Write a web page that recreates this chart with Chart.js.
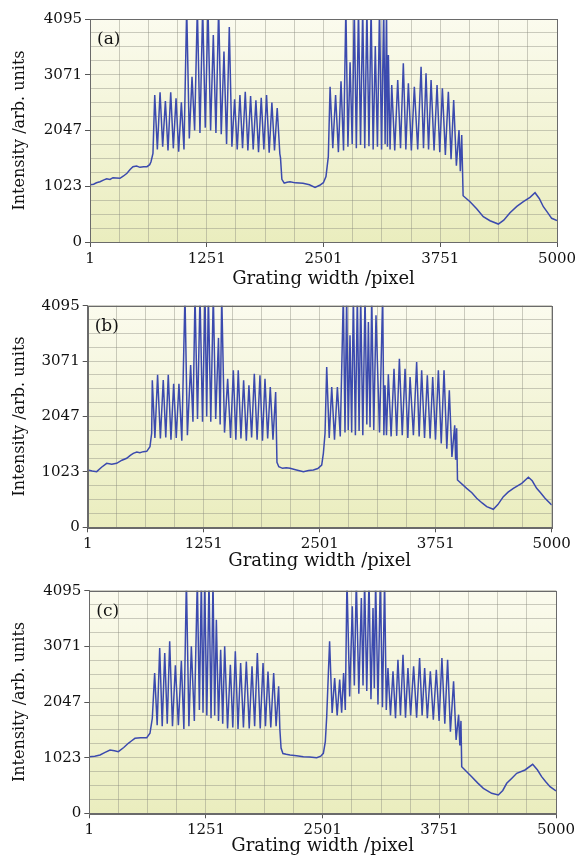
<!DOCTYPE html>
<html>
<head>
<meta charset="utf-8">
<script src="https://cdn.jsdelivr.net/npm/chart.js@4.4.0/dist/chart.umd.min.js"></script>
<style>
  html, body { margin: 0; padding: 0; background: #fff; }
  body { width: 581px; height: 859px; position: relative; overflow: hidden; }
  canvas { position: absolute; left: 0; }
</style>
</head>
<body>
<canvas id="chartA" width="581" height="290" style="top:0px"></canvas>
<canvas id="chartB" width="581" height="285" style="top:290px"></canvas>
<canvas id="chartC" width="581" height="284" style="top:575px"></canvas>
<script>
// tick labels of both axes
const xTickLabels = [1, 1251, 2501, 3751, 5000];
const yTickLabels = [0, 1023, 2047, 3071, 4095];
const panelTags = ['(a)', '(b)', '(c)'];

// panel (a): grating pixel / intensity (values > 4095 are saturated)
const pixelA = [1,40,70,108,150,180,215,247,280,322,360,397,430,461,500,536,575,611,640,654,675,
  694,722,751,779,808,836,865,893,922,950,979,1007,1036,1064,1093,1121,1150,1178,1207,1235,1264,1292,1321,1349,1378,1406,1435,1463,1492,1520,1549,1577,1606,1634,1663,1691,1720,1748,1777,1805,1834,1862,1891,1919,1948,1976,2005,2033,
  2040,2055,2080,2110,2142,2200,2281,2350,2410,2460,2499,2527,2552,
  2571,2600,2630,2660,2688,2715,2740,2762,2785,2808,2830,2852,2875,2897,2920,2942,2965,2987,3010,3032,3055,3078,3100,3122,3145,3160,3175,3185,3195,3213,3231,3263,3295,3325,3355,3382,3409,3441,3473,3509,3545,3571,3598,3625,3652,3684,3716,3745,3773,3805,3837,3866,3894,3923,3951,3965,3980,
  3995,4069,4140,4211,4283,4372,4430,4497,4570,4640,4711,4765,4810,4854,4900,4943,5000];
const intensityA = [1050,1062,1088,1107,1140,1162,1150,1181,1176,1170,1212,1261,1330,1383,1396,1371,1382,1383,1420,1475,1628,
  2700,1700,2750,1750,2590,1680,2750,1720,2640,1660,2565,1700,4300,1900,3035,2050,4300,2000,4300,2100,4300,2050,3800,2000,4300,1980,3500,1800,3950,1750,2620,1700,2700,1720,2760,1680,2680,1700,2600,1650,2650,1700,2700,1640,2560,1680,2460,1620,
  1550,1150,1080,1098,1107,1086,1077,1052,1004,1042,1089,1200,1567,
  2850,1720,2700,1650,2950,1680,4300,1750,3300,1800,4300,1720,4300,1780,4300,1720,4300,1760,4300,1700,3600,1750,4300,1700,4300,1800,4300,1750,3433,1700,2883,1680,2975,1720,3281,1700,2913,1680,2852,1700,3219,1720,3097,1700,2975,1680,2883,1650,2822,1600,2760,1520,2607,1400,2056,1300,1964,
  850,740,610,465,391,330,400,538,655,740,820,905,800,648,540,435,395];

// panel (b)
const pixelB = [1,50,98,150,206,260,313,370,421,460,492,530,564,600,637,672,690,
  697,725,754,784,815,842,869,898,927,955,984,1015,1049,1075,1110,1135,1157,1184,1211,1238,1265,1283,1301,1327,1354,1380,1410,1428,1445,1475,1509,1540,1570,1597,1623,1652,1681,1710,1738,1767,1796,1826,1857,1884,1911,1940,1968,1997,2026,
  2040,2060,2100,2140,2181,2250,2325,2380,2432,2480,2522,2540,2558,
  2576,2603,2630,2660,2691,2722,2755,2773,2791,2808,2827,2845,2863,2885,2906,2925,2942,2965,2989,3008,3025,3043,3061,3083,3107,3145,3179,3192,3204,3220,3240,3270,3301,3330,3359,3390,3420,3450,3474,3510,3545,3572,3599,3630,3660,3690,3718,3748,3779,3810,3840,3870,3897,3925,3955,3965,3976,
  3985,4084,4140,4192,4250,4300,4371,4420,4479,4530,4587,4677,4749,4790,4838,4880,4928,5000];
const intensityB = [1059,1040,1028,1110,1183,1165,1183,1240,1275,1330,1367,1392,1380,1398,1404,1490,1737,
  2717,1650,2820,1640,2722,1660,2820,1620,2654,1650,2654,1600,4300,1700,3000,1950,4300,2000,4300,1950,4300,2050,4300,1950,4300,2000,3500,1900,4300,1750,2746,1650,2900,1620,2900,1640,2717,1600,2624,1660,2839,1620,2808,1600,2746,1640,2593,1620,2500,
  1200,1120,1090,1102,1090,1060,1028,1050,1059,1085,1151,1367,1737,
  2962,1650,2593,1620,2593,1680,4300,1750,4300,1800,3548,1750,4300,1700,4300,1780,4300,1700,4300,1900,3794,1850,4300,1800,3917,1750,4300,1700,2624,1700,2826,1680,2931,1690,3116,1700,2931,1650,2777,1700,3055,1680,2901,1650,2808,1640,2777,1620,2900,1550,2900,1450,2532,1300,1885,1250,1830,
  874,720,640,536,450,381,333,420,566,650,720,813,924,860,720,640,536,412];

// panel (c)
const pixelC = [1,60,116,170,223,270,312,370,419,455,490,550,616,651,676,
  701,728,755,782,809,836,862,892,923,955,987,1014,1041,1068,1094,1126,1158,1180,1201,1219,1237,1260,1283,1305,1326,1344,1362,1385,1408,1430,1451,1482,1512,1538,1565,1594,1622,1652,1683,1714,1744,1772,1801,1832,1862,1888,1915,1945,1976,2002,2029,2042,
  2055,2075,2110,2151,2220,2294,2360,2437,2480,2508,2529,2544,
  2575,2602,2629,2656,2683,2704,2725,2743,2761,2790,2818,2840,2861,2888,2915,2933,2950,2973,2997,3018,3040,3054,3068,3093,3118,3141,3164,3182,3200,3227,3254,3281,3307,3334,3361,3388,3414,3443,3475,3507,3539,3566,3593,3622,3654,3686,3718,3748,3778,3809,3839,3869,3903,3930,3957,3970,3982,
  3990,4097,4160,4222,4311,4382,4430,4472,4530,4579,4668,4750,4800,4846,4890,4936,5000];
const intensityC = [1042,1050,1073,1120,1165,1150,1134,1210,1288,1335,1380,1390,1392,1472,1748,
  2582,1620,3042,1600,2950,1650,3165,1600,2723,1620,2808,1550,4300,1600,3073,1700,4300,1900,4300,1850,4300,1800,4300,1750,4300,1800,3562,1700,3010,1650,3073,1560,2734,1580,2981,1550,2766,1580,2793,1560,2703,1600,2950,1560,2766,1600,2610,1580,2582,1600,2337,1550,
  1200,1100,1085,1073,1060,1042,1035,1023,1050,1104,1317,1778,
  3165,1846,2490,1800,2459,1850,2582,1900,4300,2150,3809,2350,4300,2200,3962,2350,4300,2250,4300,2100,3778,2300,4300,2000,4300,1950,4300,1900,2672,1800,2613,1750,2826,1800,2918,1760,2674,1800,2705,1760,2858,1800,2674,1750,2613,1720,2642,1700,2858,1650,2826,1500,2429,1350,1814,1250,1700,
  858,674,560,460,368,337,420,552,650,736,797,901,800,674,580,490,411];

// major ticks plus 3 grid lines in between
function quarterTicks(majors) {
  const out = [];
  for (let i = 0; i < majors.length - 1; i++) {
    const a = majors[i], b = majors[i + 1];
    for (let k = 0; k < 4; k++) out.push(a + (b - a) * k / 4);
  }
  out.push(majors[majors.length - 1]);
  return out;
}

const serif = 'DejaVu Serif';
const gridColor = 'rgba(135,135,125,0.42)';

// yellowish paper behind the plot
const bgPlugin = {
  id: 'paperBg',
  beforeDraw(chart) {
    const { ctx, chartArea: a } = chart;
    const g = ctx.createLinearGradient(0, a.top, 0, a.bottom);
    g.addColorStop(0, '#fbfbee');
    g.addColorStop(1, '#eaedbe');
    ctx.save();
    ctx.fillStyle = g;
    ctx.fillRect(a.left, a.top, a.right - a.left, a.bottom - a.top);
    ctx.restore();
  }
};

// frame round the plot and the (a)/(b)/(c) tag
const framePlugin = {
  id: 'frameTag',
  afterDraw(chart, args, opts) {
    const { ctx, chartArea: a } = chart;
    ctx.save();
    ctx.strokeStyle = '#6a6a6a';
    ctx.lineWidth = 1;
    ctx.strokeRect(Math.round(a.left) + 0.5, Math.round(a.top) + 0.5,
      Math.round(a.right - a.left), Math.round(a.bottom - a.top));
    ctx.fillStyle = '#111';
    ctx.font = '17px "' + serif + '"';
    ctx.textBaseline = 'alphabetic';
    ctx.fillText(opts.text, a.left + 7, a.top + 25);
    ctx.restore();
  }
};

function drawPanel(id, xs, ys, tag, box) {
  const ctx = document.getElementById(id).getContext('2d');
  new Chart(ctx, {
    type: 'line',
    data: {
      datasets: [{
        data: xs.map((x, i) => ({ x: x, y: ys[i] })),
        borderColor: '#3b4aae',
        borderWidth: 1.5,
        pointRadius: 0,
        tension: 0,
        clip: 0
      }]
    },
    options: {
      responsive: false,
      animation: false,
      events: [],
      layout: { padding: { top: box.top, right: box.right, left: 0, bottom: 0 } },
      plugins: {
        legend: { display: false },
        tooltip: { enabled: false },
        frameTag: { text: tag }
      },
      scales: {
        x: {
          type: 'linear',
          min: 1,
          max: 5000,
          afterBuildTicks: s => { s.ticks = quarterTicks(xTickLabels).map(v => ({ value: v })); },
          afterFit: s => { s.height = box.xh; },
          ticks: {
            autoSkip: false,
            maxRotation: 0,
            padding: 3,
            color: '#111',
            font: { family: serif, size: 15 },
            callback: v => xTickLabels.includes(v) ? String(v) : ''
          },
          grid: {
            color: gridColor,
            tickLength: 5,
            tickColor: c => xTickLabels.includes(c.tick && c.tick.value) ? '#555' : 'rgba(0,0,0,0)'
          },
          border: { color: '#6a6a6a' },
          title: {
            display: true,
            text: 'Grating width /pixel',
            color: '#111',
            font: { family: serif, size: 18 },
            padding: { top: 0, bottom: box.tb }
          }
        },
        y: {
          type: 'linear',
          min: 0,
          max: 4095,
          afterBuildTicks: s => { s.ticks = quarterTicks(yTickLabels).map(v => ({ value: v })); },
          afterFit: s => { s.width = box.left; },
          ticks: {
            autoSkip: false,
            padding: 3,
            color: '#111',
            font: { family: serif, size: 15 },
            callback: v => yTickLabels.includes(v) ? String(v) : ''
          },
          grid: {
            color: gridColor,
            tickLength: 5,
            tickColor: c => yTickLabels.includes(c.tick && c.tick.value) ? '#555' : 'rgba(0,0,0,0)'
          },
          border: { color: '#6a6a6a' },
          title: {
            display: true,
            text: 'Intensity /arb. units',
            color: '#111',
            font: { family: serif, size: 16 },
            padding: { top: 10, bottom: 0 }
          }
        }
      }
    },
    plugins: [bgPlugin, framePlugin]
  });
}

drawPanel('chartA', pixelA, intensityA, panelTags[0], { top: 19, right: 24, left: 90, xh: 48, tb: 0.2 });
drawPanel('chartB', pixelB, intensityB, panelTags[1], { top: 15.7, right: 29.3, left: 87.7, xh: 47.7, tb: 2.5 });
drawPanel('chartC', pixelC, intensityC, panelTags[2], { top: 15.7, right: 25, left: 89.3, xh: 45.7, tb: 1.5 });
</script>
</body>
</html>
